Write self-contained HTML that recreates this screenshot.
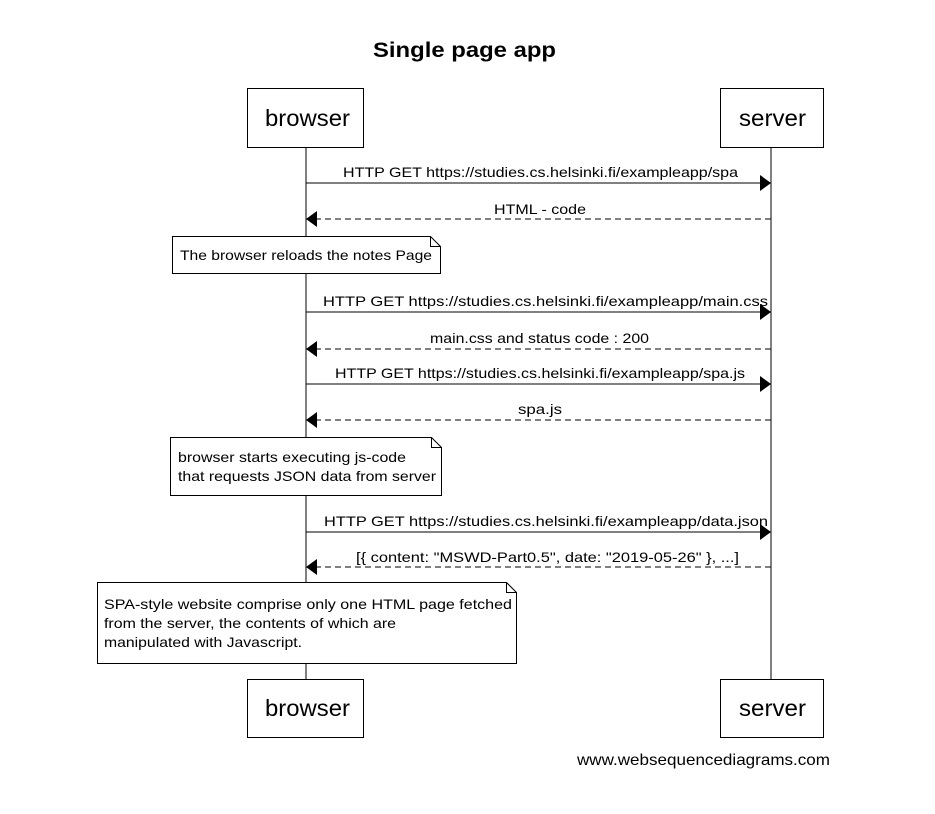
<!DOCTYPE html>
<html><head><meta charset="utf-8"><style>body{margin:0;background:#fff}svg{display:block}text{font-family:"Liberation Sans",sans-serif;fill:#000}</style></head><body>
<svg width="935" height="814" viewBox="0 0 935 814" xmlns="http://www.w3.org/2000/svg">
<defs>
<marker id="a" markerWidth="12" markerHeight="16" refX="11" refY="8" orient="auto" markerUnits="userSpaceOnUse"><path d="M0,0 L11,8 L0,16 Z" fill="#000"/></marker>
</defs>
<text x="373" y="57" font-size="21" font-weight="bold" textLength="183" lengthAdjust="spacingAndGlyphs">Single page app</text>
<line x1="306" y1="147" x2="306" y2="679" stroke="#000"/>
<line x1="771" y1="147" x2="771" y2="679" stroke="#000"/>
<g fill="#fff" stroke="#000">
<rect x="247.5" y="88.5" width="116" height="59"/>
<rect x="720.5" y="88.5" width="103" height="59"/>
<rect x="247.5" y="679.5" width="116" height="58"/>
<rect x="720.5" y="679.5" width="103" height="58"/>
</g>
<g font-size="23" lengthAdjust="spacingAndGlyphs">
<text x="265" y="126" textLength="85" lengthAdjust="spacingAndGlyphs">browser</text><text x="739" y="126" textLength="67" lengthAdjust="spacingAndGlyphs">server</text>
<text x="265" y="716" textLength="85" lengthAdjust="spacingAndGlyphs">browser</text><text x="739" y="716" textLength="67" lengthAdjust="spacingAndGlyphs">server</text>
</g>
<g stroke="#000" fill="none">
<line x1="306" y1="183" x2="771" y2="183" marker-end="url(#a)"/>
<line x1="771" y1="219" x2="306" y2="219" stroke-dasharray="6,4" marker-end="url(#a)"/>
<line x1="306" y1="312" x2="771" y2="312" marker-end="url(#a)"/>
<line x1="771" y1="349" x2="306" y2="349" stroke-dasharray="6,4" marker-end="url(#a)"/>
<line x1="306" y1="384" x2="771" y2="384" marker-end="url(#a)"/>
<line x1="771" y1="420" x2="306" y2="420" stroke-dasharray="6,4" marker-end="url(#a)"/>
<line x1="306" y1="532" x2="771" y2="532" marker-end="url(#a)"/>
<line x1="771" y1="567" x2="306" y2="567" stroke-dasharray="6,4" marker-end="url(#a)"/>
</g>
<g font-size="14">
<text x="343" y="177" textLength="395" lengthAdjust="spacingAndGlyphs">HTTP GET https://studies.cs.helsinki.fi/exampleapp/spa</text>
<text x="494" y="214" textLength="92" lengthAdjust="spacingAndGlyphs">HTML - code</text>
<text x="323" y="306" textLength="445" lengthAdjust="spacingAndGlyphs">HTTP GET https://studies.cs.helsinki.fi/exampleapp/main.css</text>
<text x="430" y="343" textLength="219" lengthAdjust="spacingAndGlyphs">main.css and status code : 200</text>
<text x="335" y="378" textLength="410" lengthAdjust="spacingAndGlyphs">HTTP GET https://studies.cs.helsinki.fi/exampleapp/spa.js</text>
<text x="518" y="414" textLength="44" lengthAdjust="spacingAndGlyphs">spa.js</text>
<text x="324" y="526" textLength="444" lengthAdjust="spacingAndGlyphs">HTTP GET https://studies.cs.helsinki.fi/exampleapp/data.json</text>
<text x="356" y="562" textLength="383" lengthAdjust="spacingAndGlyphs">[{ content: "MSWD-Part0.5", date: "2019-05-26" }, ...]</text>
</g>
<g fill="#fff" stroke="#000">
<path d="M172.5,236.5 H430.5 L440.5,246.5 V273.5 H172.5 Z"/>
<path d="M430.5,236.5 V246.5 H440.5" fill="none"/>
<path d="M170.5,437.5 H431.5 L441.5,447.5 V495.5 H170.5 Z"/>
<path d="M431.5,437.5 V447.5 H441.5" fill="none"/>
<path d="M97.5,582.5 H506.5 L516.5,592.5 V663.5 H97.5 Z"/>
<path d="M506.5,582.5 V592.5 H516.5" fill="none"/>
</g>
<g font-size="14">
<text x="180" y="260" textLength="252" lengthAdjust="spacingAndGlyphs">The browser reloads the notes Page</text>
<text x="178" y="462" textLength="228" lengthAdjust="spacingAndGlyphs">browser starts executing js-code</text>
<text x="178" y="481" textLength="258" lengthAdjust="spacingAndGlyphs">that requests JSON data from server</text>
<text x="104" y="609" textLength="408" lengthAdjust="spacingAndGlyphs">SPA-style website comprise only one HTML page fetched</text>
<text x="104" y="628" textLength="292" lengthAdjust="spacingAndGlyphs">from the server, the contents of which are</text>
<text x="104" y="647" textLength="198" lengthAdjust="spacingAndGlyphs">manipulated with Javascript.</text>
</g>
<text x="577" y="765" font-size="16" textLength="253" lengthAdjust="spacingAndGlyphs">www.websequencediagrams.com</text>
</svg>
</body></html>
